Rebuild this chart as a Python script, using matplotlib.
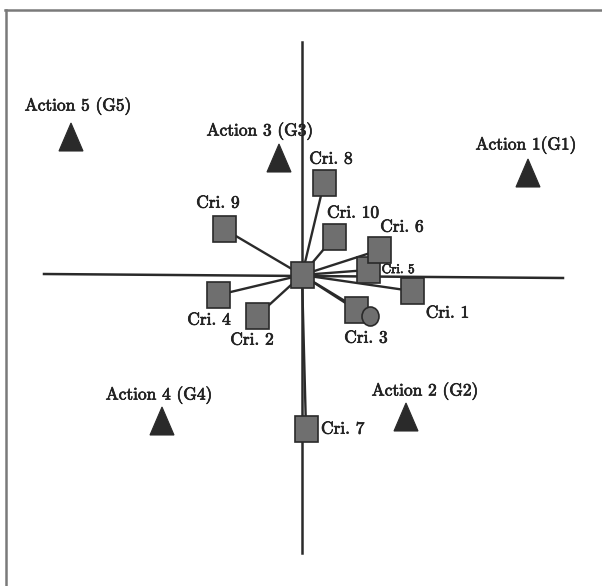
import numpy as np
import matplotlib
matplotlib.use("Agg")
import matplotlib.pyplot as plt
import matplotlib.patheffects as pe
from matplotlib.patches import Rectangle, Polygon, Ellipse

# criteria projected on the plane (units: 1 = 100 px)
crit_names = ["Cri. 1", "Cri. 2", "Cri. 3", "Cri. 4", "Cri. 5",
              "Cri. 6", "Cri. 7", "Cri. 8", "Cri. 9", "Cri. 10"]
crit_x = [1.10, -0.45, 0.545, -0.84, 0.66, 0.775, 0.04, 0.22, -0.78, 0.325]
crit_y = [-0.16, -0.41, -0.35, -0.20, 0.05, 0.25, -1.54, 0.92, 0.46, 0.385]

# actions
act_names = ["Action 1(G1)", "Action 2 (G2)", "Action 3 (G3)",
             "Action 4 (G4)", "Action 5 (G5)"]
act_x = [2.26, 1.04, -0.23, -1.40, -2.31]
act_y = [1.02, -1.42, 1.17, -1.46, 1.38]

# decision stick
stick_x, stick_y = 0.685, -0.415

# label offsets from the marker centre
crit_off = [(0.355, -0.22), (-0.05, -0.24), (0.095, -0.28), (-0.09, -0.25),
            (0.30, 0.0), (0.225, 0.23), (0.15, 0.0), (0.07, 0.24),
            (-0.06, 0.26), (0.185, 0.235)]
act_off = [(-0.02, 0.28), (0.19, 0.26), (-0.19, 0.27), (-0.03, 0.26), (0.07, 0.31)]

DARK = "#2a2a2a"
GREY = "#6f6f6f"
FONT = "cmr10"
bold = [pe.withStroke(linewidth=0.5, foreground="#222222")]

fig = plt.figure(figsize=(6.02, 5.86), dpi=100)
ax = fig.add_axes([0, 0, 1, 1])
ax.set_xlim(-3.02, 3.00)
ax.set_ylim(-3.11, 2.75)
ax.axis("off")

# frame (left and top edges only)
fig.add_artist(plt.Line2D([6 / 602, 6 / 602], [0, 1 - 10 / 586],
                          transform=fig.transFigure, color="#7a7a7a", lw=1.8))
fig.add_artist(plt.Line2D([5 / 602, 1], [1 - 10 / 586, 1 - 10 / 586],
                          transform=fig.transFigure, color="#7a7a7a", lw=1.8))

# axes of the plane
ax.plot([-2.58, 2.61], [0.01, -0.03], color=DARK, lw=1.8, zorder=1)
ax.plot([0.0, 0.0], [2.33, -2.78], color=DARK, lw=1.8, zorder=1)

# rays from the origin to each criterion
for x, y in zip(crit_x, crit_y):
    ax.plot([0, x], [0, y], color=DARK, lw=1.7, zorder=2)
ax.plot([0, stick_x], [0, stick_y], color=DARK, lw=1.7, zorder=2)

sw, sh = 0.23, 0.26
ax.add_patch(Rectangle((-sw / 2, -sh / 2), sw, sh, facecolor=GREY,
                       edgecolor=DARK, lw=1.2, zorder=3))
for x, y, name, (dx, dy) in zip(crit_x, crit_y, crit_names, crit_off):
    ax.add_patch(Rectangle((x - sw / 2, y - sh / 2), sw, sh, facecolor=GREY,
                           edgecolor=DARK, lw=1.2, zorder=3))
    small = name == "Cri. 5"
    ax.text(x + dx, y + dy, name, fontsize=9.5 if small else 12.5,
            family=FONT, color="#222222", path_effects=bold,
            ha="left" if name == "Cri. 7" else "center", va="center", zorder=5)

ax.add_patch(Ellipse((stick_x, stick_y), 0.17, 0.19, facecolor=GREY,
                     edgecolor=DARK, lw=1.2, zorder=4))

tw, th = 0.24, 0.28
for x, y, name, (dx, dy) in zip(act_x, act_y, act_names, act_off):
    ax.add_patch(Polygon([(x - tw / 2, y - th / 2), (x + tw / 2, y - th / 2),
                          (x, y + th / 2)], closed=True, facecolor=DARK,
                         edgecolor=DARK, lw=0.8, zorder=3))
    ax.text(x + dx, y + dy, name, fontsize=12.5, family=FONT,
            color="#222222", path_effects=bold,
            ha="center", va="center", zorder=5)

fig.savefig("out.png", dpi=100, facecolor="white")
